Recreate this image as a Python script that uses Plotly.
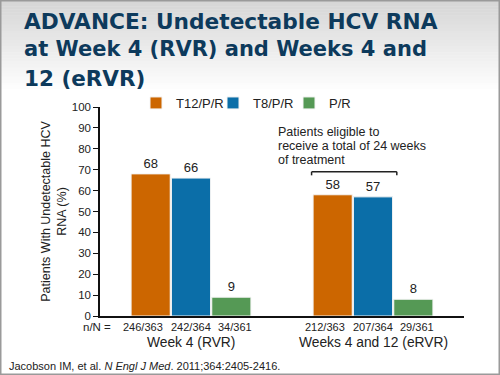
import plotly.graph_objects as go

categories = ["Week 4 (RVR)", "Weeks 4 and 12 (eRVR)"]
series_names = ["T12/P/R", "T8/P/R", "P/R"]
t12_values = [68, 58]
t8_values = [66, 57]
pr_values = [9, 8]
t12_nN = ["246/363", "212/363"]
t8_nN = ["242/364", "207/364"]
pr_nN = ["34/361", "29/361"]
y_ticks = list(range(0, 101, 10))
title_lines = ["ADVANCE: Undetectable HCV RNA", "at Week 4 (RVR) and Weeks 4 and", "12 (eRVR)"]
note_lines = ["Patients eligible to", "receive a total of 24 weeks", "of treatment"]

colors = ["#CC6600", "#0B6EA8", "#559955"]
FONT = "Arial, Liberation Sans, sans-serif"

W, H = 500, 375
ML, MR, MT, MB = 100, 36, 107, 59
PW, PH = W - ML - MR, H - MT - MB

def px_x(x):
    return (x - ML) / PW

def px_y(y):
    return (H - MB - y) / PH

BARGAP = 0.335
BARGROUPGAP = 0.03
slot = (1 - BARGAP) / 3
label_offsets = [-1.18 * slot, 0, 1.1 * slot]

legend_names = ["legend", "legend2", "legend3"]
legend_px = [(136, 103), (213, 103), (289, 103)]

fig = go.Figure()
for name, vals, col, lg in zip(series_names, [t12_values, t8_values, pr_values], colors, legend_names):
    fig.add_trace(go.Bar(
        x=categories, y=vals, name=name, legend=lg,
        marker=dict(color=col, line=dict(color="#f4f4f4", width=1)),
        text=[str(v) for v in vals], textposition="outside",
        textfont=dict(size=13, color="#222", family=FONT),
        cliponaxis=False, hoverinfo="skip",
    ))

shapes = []
# background gradient at top
n_bands = 30
top_h = 92
for i in range(n_bands):
    t = i / (n_bands - 1)
    g = int(214 + (255 - 214) * t)
    y0 = i * top_h / n_bands
    y1 = (i + 1) * top_h / n_bands + 0.5
    shapes.append(dict(type="rect", xref="paper", yref="paper",
                       x0=px_x(0), x1=px_x(W), y0=px_y(y1), y1=px_y(y0),
                       fillcolor=f"rgb({g},{g},{g})", line=dict(width=0), layer="below"))
# slide border
shapes.append(dict(type="rect", xref="paper", yref="paper",
                   x0=px_x(0.75), x1=px_x(W - 0.75), y0=px_y(H - 0.75), y1=px_y(0.75),
                   line=dict(color="#9a9a9a", width=1.5), fillcolor="rgba(0,0,0,0)"))
# bracket over group 2 (T12 and T8 bars)
bx0 = 1 - 1.5 * slot - 0.005
bx1 = 1 + 0.5 * slot + 0.02
by_top, by_leg = 69, 67.3
for (xa, ya, xb, yb) in [(bx0, by_leg, bx0, by_top), (bx0, by_top, bx1, by_top), (bx1, by_top, bx1, by_leg)]:
    shapes.append(dict(type="line", xref="x", yref="y", x0=xa, y0=ya, x1=xb, y1=yb,
                       line=dict(color="#222", width=1.5)))

annotations = []
title_sizes = [21.7, 21.0, 21.5]
for i, line in enumerate(title_lines):
    annotations.append(dict(
        text=line, xref="paper", yref="paper", x=px_x(22), y=px_y(21 + i * 28.5),
        xanchor="left", yanchor="middle", align="left", showarrow=False,
        font=dict(family="DejaVu Sans, sans-serif", size=title_sizes[i], color="#0D3A5C",
                  weight="bold")))
# n/N labels
annotations.append(dict(text="n/N =", xref="paper", yref="paper", x=px_x(113), y=0,
                        xanchor="right", yanchor="top", yshift=-3, showarrow=False,
                        font=dict(family=FONT, size=11.5, color="#222")))
for ci, cat in enumerate(categories):
    for si, labels in enumerate([t12_nN, t8_nN, pr_nN]):
        annotations.append(dict(text=labels[ci], xref="x", yref="paper",
                                x=ci + label_offsets[si], y=0, xanchor="center", yanchor="top",
                                yshift=-3, showarrow=False,
                                font=dict(family=FONT, size=11, color="#222")))
    annotations.append(dict(text=cat, xref="x", yref="paper", x=ci, y=0,
                            xanchor="center", yanchor="top", yshift=-17, showarrow=False,
                            font=dict(family=FONT, size=13.8, color="#222")))
for i, line in enumerate(note_lines):
    annotations.append(dict(
        text=line, xref="paper", yref="paper", x=px_x(276), y=px_y(132 + i * 14),
        xanchor="left", yanchor="middle", align="left", showarrow=False,
        font=dict(family=FONT, size=12.5, color="#222")))
annotations.append(dict(
    text="Jacobson IM, et al. <i>N Engl J Med</i>. 2011;364:2405-2416.",
    xref="paper", yref="paper", x=px_x(7), y=px_y(366), xanchor="left", yanchor="middle",
    showarrow=False, font=dict(family=FONT, size=11, color="#222")))

legend_common = dict(orientation="h", xanchor="left", yanchor="middle",
                     font=dict(size=13, color="#222", family=FONT), bgcolor="rgba(0,0,0,0)",
                     itemclick=False, borderwidth=0)
legends = {}
for lg, (lx, ly) in zip(legend_names, legend_px):
    legends[lg] = dict(x=px_x(lx), y=px_y(ly), **legend_common)

fig.update_layout(
    width=W, height=H,
    margin=dict(l=ML, r=MR, t=MT, b=MB, pad=0),
    paper_bgcolor="white", plot_bgcolor="white",
    barmode="group", bargap=BARGAP, bargroupgap=BARGROUPGAP,
    font=dict(family=FONT, color="#222"),
    showlegend=True, hovermode=False,
    xaxis=dict(showline=True, linecolor="#111", linewidth=1.5, showticklabels=False,
               ticks="", showgrid=False, zeroline=False, fixedrange=True),
    yaxis=dict(range=[0, 100], tickvals=y_ticks, ticks="outside", ticklen=5, tickwidth=1.2,
               tickcolor="#111", showline=True, linecolor="#111", linewidth=1.5,
               showgrid=False, zeroline=False, tickfont=dict(size=11.5, color="#222"),
               fixedrange=True,
               title=dict(text="Patients With Undetectable HCV<br>RNA (%)",
                          font=dict(size=12.5, color="#222"), standoff=2)),
    shapes=shapes, annotations=annotations,
    **legends,
)

fig.write_html("out.html", config={"displayModeBar": False},
               post_script="document.body.style.margin='0px';")
